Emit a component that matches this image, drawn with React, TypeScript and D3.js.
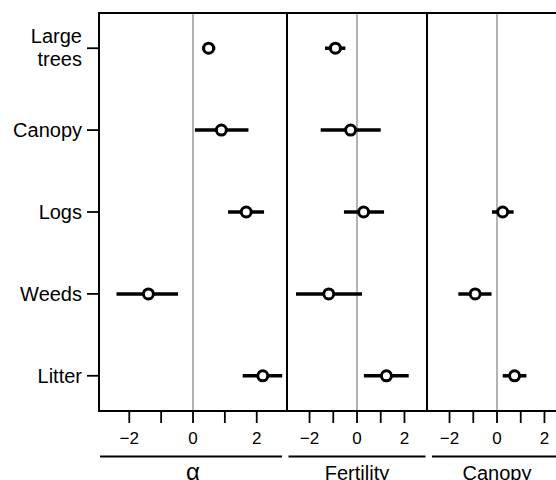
import React from 'react';
import * as d3 from 'd3';

const categories = ['Large trees', 'Canopy', 'Logs', 'Weeds', 'Litter'];
const panels = ['α', 'Fertility', 'Canopy'];

// estimate, lower, upper per panel (null = not in model)
const alphaMean = [0.49, 0.89, 1.67, -1.4, 2.19];
const alphaLow = [0.3, 0.06, 1.1, -2.4, 1.56];
const alphaHigh = [0.7, 1.74, 2.23, -0.47, 2.8];

const fertMean = [-0.91, -0.27, 0.28, -1.19, 1.24];
const fertLow = [-1.35, -1.53, -0.55, -2.57, 0.29];
const fertHigh = [-0.49, 1.0, 1.14, 0.21, 2.18];

const canopyMean = [null, null, 0.24, -0.92, 0.74];
const canopyLow = [null, null, -0.21, -1.63, 0.24];
const canopyHigh = [null, null, 0.7, -0.23, 1.24];

const tickValues = [-2, -1, 0, 1, 2];
const tickLabels = [-2, 0, 2];

const width = 556;
const height = 480;
const top = 13;
const bottom = 411;
const panelEdges = [99, 287, 427, 567];
const lineInset = [[1, 5], [1.5, 1.5], [5, 0]];

const series = [
  { mean: alphaMean, low: alphaLow, high: alphaHigh },
  { mean: fertMean, low: fertLow, high: fertHigh },
  { mean: canopyMean, low: canopyLow, high: canopyHigh },
];

const y = d3.scalePoint<string>()
  .domain(categories)
  .range([top, bottom])
  .padding(0.43);

const font = '"Liberation Sans", Arial, Helvetica, sans-serif';

const App = () => {
  return (
    <svg width={width} height={height} style={{ position: 'absolute', left: 0, top: 0 }}
      fontFamily={font}>
      <rect width={width} height={height} fill="white" />
      {panels.map((title, p) => {
        const x0 = panelEdges[p];
        const x1 = panelEdges[p + 1];
        const x = d3.scaleLinear().domain([-2.95, 2.95]).range([x0, x1]);
        const s = series[p];
        return (
          <g key={title}>
            <line x1={x(0)} x2={x(0)} y1={top} y2={bottom} stroke="#b3b3b3" strokeWidth={2} />
            {categories.map((c, i) => {
              const m = s.mean[i];
              if (m == null) return null;
              const cy = y(c)!;
              return (
                <g key={c}>
                  <line x1={x(s.low[i]!)} x2={x(s.high[i]!)} y1={cy} y2={cy}
                    stroke="black" strokeWidth={3.5} />
                  <circle cx={x(m)} cy={cy} r={5} fill="white" stroke="black" strokeWidth={3} />
                </g>
              );
            })}
            {tickValues.map(t => (
              <line key={t} x1={x(t)} x2={x(t)} y1={bottom} y2={bottom + 12}
                stroke="black" strokeWidth={1.8} />
            ))}
            {tickLabels.map(t => (
              <text key={t} x={x(t)} y={444} textAnchor="middle" fontSize={17}>
                {t < 0 ? `\u2212${Math.abs(t)}` : t}
              </text>
            ))}
            <line x1={x0 + lineInset[p][0]} x2={x1 - lineInset[p][1]} y1={456.5} y2={456.5}
              stroke="black" strokeWidth={1.8} />
            <text x={(x0 + x1) / 2} y={479.5} textAnchor="middle"
              fontSize={p === 0 ? 24 : 20}>{title}</text>
            <rect x={x0} y={top} width={x1 - x0} height={bottom - top}
              fill="none" stroke="black" strokeWidth={2} />
          </g>
        );
      })}
      {categories.map(c => {
        const cy = y(c)!;
        const words = c === 'Large trees' ? ['Large', 'trees'] : [c];
        return (
          <g key={c}>
            <line x1={87} x2={99} y1={cy} y2={cy} stroke="black" strokeWidth={1.8} />
            {words.length === 1 ? (
              <text x={82} y={cy + 7} textAnchor="end" fontSize={20}>{c}</text>
            ) : (
              words.map((w, k) => (
                <text key={w} x={82} y={cy - 5 + k * 23} textAnchor="end" fontSize={20}>{w}</text>
              ))
            )}
          </g>
        );
      })}
    </svg>
  );
};

export default App;
